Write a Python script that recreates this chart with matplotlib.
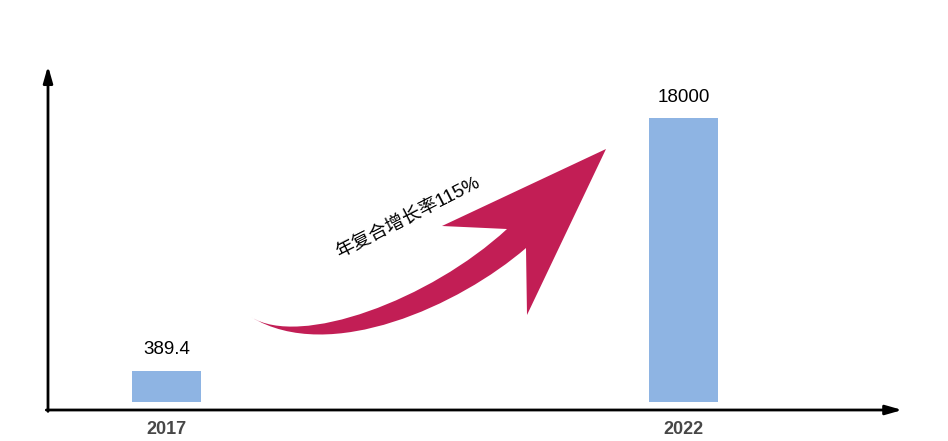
import matplotlib.pyplot as plt
from matplotlib.path import Path
from matplotlib.patches import PathPatch

plt.rcParams["font.family"] = ["Liberation Sans", "Noto Sans CJK SC", "DejaVu Sans"]

# Data (bar heights in the original are schematic, not to scale)
years = ["2017", "2022"]
values = [389.4, 18000]
bar_heights = [2000, 18000]
bar_bottom = 500
growth_label = "年复合增长率115%"

bar_color = "#8EB4E3"
arrow_color = "#C21E55"

W, H = 948, 441
fig = plt.figure(figsize=(W / 100, H / 100), dpi=100)

# main axes: left edge at x=48px, x axis at y=410px, top at y=67px
ax = fig.add_axes([48 / W, (H - 410) / H, 850 / W, 343 / H])
xpos = list(range(len(years)))
ax.bar(xpos, bar_heights, width=0.1335, bottom=bar_bottom, color=bar_color, zorder=2)
for x, h, v in zip(xpos, bar_heights, values):
    ax.annotate(f"{v:g}", xy=(x, bar_bottom + h), xytext=(0, 15), textcoords="offset points",
                ha="center", va="center", fontsize=13.5, color="black")
ax.set_xlim(-0.2292, 1.4149)
ax.set_ylim(0, 21740)
ax.set_xticks(xpos)
ax.set_xticklabels(years, fontsize=13, fontweight="bold", color="#474747")
ax.tick_params(axis="x", length=0, pad=8)
ax.set_yticks([])
for s in ax.spines.values():
    s.set_visible(False)

# axis lines with arrow heads
arrow_kw = dict(arrowstyle="-|>,head_length=0.7,head_width=0.2", lw=2, color="black",
                shrinkA=0, shrinkB=0, mutation_scale=14)
ax.annotate("", xy=(1.005, 0), xytext=(-0.002, 0), xycoords="axes fraction",
            arrowprops=arrow_kw, annotation_clip=False)
ax.annotate("", xy=(0, 1.003), xytext=(0, -0.004), xycoords="axes fraction",
            arrowprops=arrow_kw, annotation_clip=False)

# overlay in pixel coordinates for the decorative growth arrow
ov = fig.add_axes([0, 0, 1, 1])
ov.set_xlim(0, W)
ov.set_ylim(H, 0)
ov.axis("off")
ov.patch.set_alpha(0)

verts = [
    (251, 317),
    (300, 348), (430, 300), (507, 229),   # upper edge of shaft
    (442, 226),                           # upper barb
    (606, 149),                           # tip
    (527, 315),                           # lower barb
    (526, 248),                           # inner corner
    (460, 305), (330, 365), (251, 317),   # lower edge of shaft
    (251, 317),
]
codes = [Path.MOVETO,
         Path.CURVE4, Path.CURVE4, Path.CURVE4,
         Path.LINETO, Path.LINETO, Path.LINETO, Path.LINETO,
         Path.CURVE4, Path.CURVE4, Path.CURVE4,
         Path.CLOSEPOLY]
ov.add_patch(PathPatch(Path(verts, codes), facecolor=arrow_color, edgecolor="none"))

ov.text(408, 219, growth_label, rotation=27, rotation_mode="anchor",
        ha="center", va="center", fontsize=13.5, color="black")

fig.savefig("out.png", dpi=100)
